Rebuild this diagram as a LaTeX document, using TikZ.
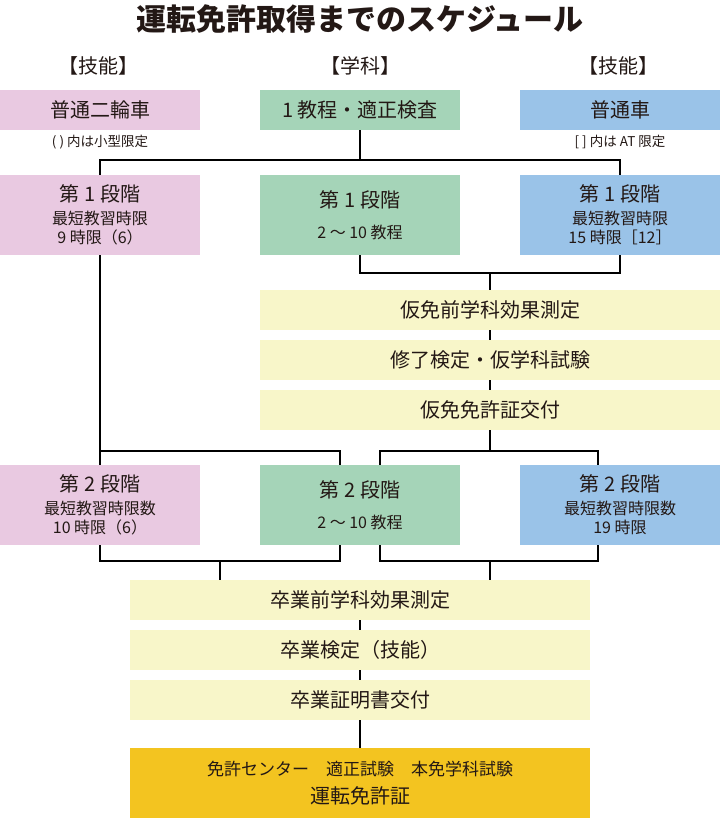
\documentclass[tikz,border=0pt]{standalone}
\usepackage{fontspec}
\setmainfont{Noto Sans CJK JP}
\definecolor{bikepink}{HTML}{E9C9E1}
\definecolor{gakkagreen}{HTML}{A5D4B8}
\definecolor{carblue}{HTML}{9AC3E8}
\definecolor{passyellow}{HTML}{F8F6C9}
\definecolor{licensegold}{HTML}{F3C420}
\definecolor{inkgray}{HTML}{231815}

\begin{document}
\begin{tikzpicture}[x = 1pt, y = -1pt, text = inkgray,
  box/.style = {rectangle, inner sep = 0pt, minimum width = 200pt, minimum height = #1, align = center},
  box/.default = 40pt,
  bigfont/.style = {font = \fontsize{20}{24}\selectfont},
  smallfont/.style = {font = \fontsize{16}{19}\selectfont},
  passbox/.style = {rectangle, fill = passyellow, inner sep = 0pt, minimum width = 460pt, minimum height = 40pt, bigfont},
  link/.style = {draw = black, line width = 2pt}]
\useasboundingbox (0, 0) rectangle (720, 820);
\node[font = \fontsize{30}{34}\selectfont\bfseries] (title) at (360, 19){運転免許取得までのスケジュール};
\node[bigfont] (headbike) at (98, 66){【技能】};
\node[bigfont] (headgakka) at (360, 66){【学科】};
\node[bigfont] (headcar) at (618, 66){【技能】};
% row 1
\node[box, fill = bikepink, bigfont] (bike) at (100, 110){普通二輪車};
\node[box, fill = gakkagreen, bigfont] (gakka) at (360, 110){1 教程・適正検査};
\node[box, fill = carblue, bigfont] (car) at (620, 110){普通車};
\node[font = \fontsize{13.5}{15}\selectfont] (notebike) at (100, 142){( ) 内は小型限定};
\node[font = \fontsize{13.5}{15}\selectfont] (notecar) at (620, 142){[ ] 内は AT 限定};
% row 2
\node[box = 80pt, fill = bikepink, smallfont] (bikeA) at (100, 215){{\fontsize{20}{24}\selectfont 第 1 段階}\\[4pt]最短教習時限\\9 時限（6）};
\node[box = 80pt, fill = gakkagreen, smallfont] (gakkaA) at (360, 215){{\fontsize{20}{24}\selectfont 第 1 段階}\\[12pt]2 ～ 10 教程};
\node[box = 80pt, fill = carblue, smallfont] (carA) at (620, 215){{\fontsize{20}{24}\selectfont 第 1 段階}\\[4pt]最短教習時限\\15 時限［12］};
% provisional license
\node[passbox] (kariA) at (490, 310){仮免前学科効果測定};
\node[passbox] (kariB) at (490, 360){修了検定・仮学科試験};
\node[passbox] (kariC) at (490, 410){仮免免許証交付};
% row 3
\node[box = 80pt, fill = bikepink, smallfont] (bikeB) at (100, 505){{\fontsize{20}{24}\selectfont 第 2 段階}\\[4pt]最短教習時限数\\10 時限（6）};
\node[box = 80pt, fill = gakkagreen, smallfont] (gakkaB) at (360, 505){{\fontsize{20}{24}\selectfont 第 2 段階}\\[12pt]2 ～ 10 教程};
\node[box = 80pt, fill = carblue, smallfont] (carB) at (620, 505){{\fontsize{20}{24}\selectfont 第 2 段階}\\[4pt]最短教習時限数\\19 時限};
% graduation
\node[passbox] (sotsuA) at (360, 600){卒業前学科効果測定};
\node[passbox] (sotsuB) at (360, 650){卒業検定（技能）};
\node[passbox] (sotsuC) at (360, 700){卒業証明書交付};
\node[rectangle, fill = licensegold, inner sep = 0pt, minimum width = 460pt, minimum height = 70pt, align = center, font = \fontsize{17}{20}\selectfont] (license) at (360, 783){免許センター　適正試験　本免学科試験\\[8pt]{\fontsize{20}{24}\selectfont 運転免許証}};
% connectors
\coordinate (forkA) at (360, 160);
\coordinate (joinA) at (490, 273);
\coordinate (forkB) at (490, 451);
\coordinate (forkL) at (100, 451);
\coordinate (joinL) at (220, 561);
\coordinate (joinR) at (490, 561);
\draw[link] (gakka.south) -- (forkA);
\draw[link] (bikeA.north) |- (forkA) -| (carA.north);
\draw[link] (gakkaA.south) |- (joinA) -| (carA.south);
\draw[link] (joinA) -- (kariA.north);
\draw[link] (kariA.south) -- (kariB.north);
\draw[link] (kariB.south) -- (kariC.north);
\draw[link] (kariC.south) -- (forkB);
\draw[link] ([xshift = 20pt]gakkaB.north) |- (forkB) -| ([xshift = -22pt]carB.north);
\draw[link] (bikeA.south) -- (bikeB.north);
\draw[link] (forkL) -| ([xshift = -20pt]gakkaB.north);
\draw[link] (bikeB.south) |- (joinL) -| ([xshift = -20pt]gakkaB.south);
\draw[link] (joinL) -- (joinL |- sotsuA.north);
\draw[link] ([xshift = 20pt]gakkaB.south) |- (joinR) -| ([xshift = -22pt]carB.south);
\draw[link] (joinR) -- (joinR |- sotsuA.north);
\draw[link] (sotsuA.south) -- (sotsuB.north);
\draw[link] (sotsuB.south) -- (sotsuC.north);
\draw[link] (sotsuC.south) -- (license.north);
\end{tikzpicture}
\end{document}
